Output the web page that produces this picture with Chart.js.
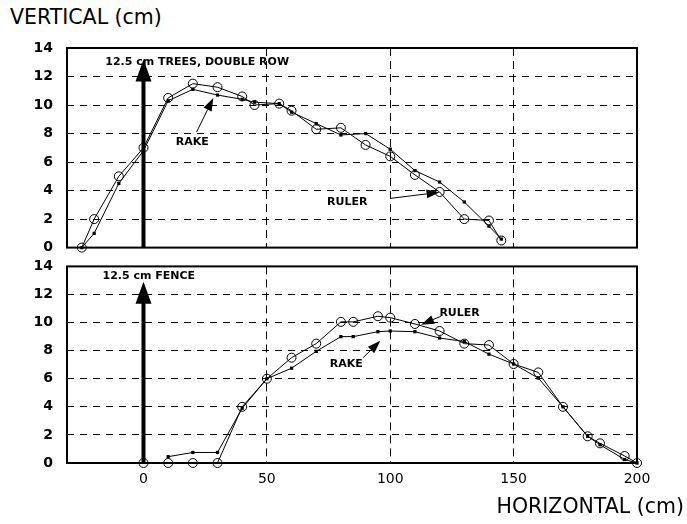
<!DOCTYPE html>
<html>
<head>
<meta charset="utf-8">
<script src="https://cdn.jsdelivr.net/npm/chart.js@4.4.0/dist/chart.umd.min.js"></script>
<style>
  body { margin: 0; background: #fff; width: 687px; height: 524px; position: relative; overflow: hidden; font-family: "DejaVu Sans", sans-serif; }
  canvas { position: absolute; left: 0; }
  #topChart { top: 0; }
  #botChart { top: 244px; }
  .axt { position: absolute; font-size: 20.5px; color: #000; white-space: nowrap; }
</style>
</head>
<body>
<div class="axt" style="left:10px; top:5px;">VERTICAL (cm)</div>
<canvas id="topChart" width="687" height="270"></canvas>
<canvas id="botChart" width="687" height="280"></canvas>
<div class="axt" style="right:3px; top:494px;">HORIZONTAL (cm)</div>

<script>
// --- data (cm) ---
const yTicks = [0, 2, 4, 6, 8, 10, 12, 14];
const xTicks = [0, 50, 100, 150, 200];

// upper panel: 12.5 cm trees, double row
const topX     = [-25, -20, -10, 0, 10, 20, 30, 40, 45, 55, 60, 70, 80, 90, 100, 110, 120, 130, 140, 145];
const topRuler = [0, 2.0, 5.0, 7.0, 10.5, 11.5, 11.25, 10.6, 10.0, 10.1, 9.6, 8.3, 8.4, 7.2, 6.4, 5.1, 3.9, 2.0, 1.9, 0.5];
const topRake  = [0, 1.0, 4.5, 6.8, 10.3, 11.1, 10.7, 10.4, 10.2, 10.1, 9.5, 8.7, 7.9, 8.0, 6.9, 5.4, 4.6, 3.2, 1.5, 0.6];

// lower panel: 12.5 cm fence
const botRulerX = [0, 10, 20, 30, 40, 50, 60, 70, 80, 85, 95, 100, 110, 120, 130, 140, 150, 160, 170, 180, 185, 195, 200];
const botRuler  = [0, 0, 0, 0, 4.0, 6.0, 7.5, 8.5, 10.05, 10.05, 10.45, 10.35, 9.9, 9.4, 8.5, 8.4, 7.05, 6.45, 4.0, 1.9, 1.4, 0.5, 0];
const botRakeX  = [10, 20, 30, 40, 50, 60, 70, 80, 85, 95, 100, 110, 120, 130, 140, 150, 160, 170, 180, 185, 195, 200];
const botRake   = [0.45, 0.75, 0.75, 3.9, 6.0, 6.75, 7.95, 9.0, 9.0, 9.35, 9.4, 9.35, 8.9, 8.65, 7.75, 7.05, 6.05, 4.0, 1.9, 1.3, 0.25, 0];

const pts = (xs, ys) => xs.map((x, i) => ({ x: x, y: ys[i] }));

// draws the plot frame, the thick marker arrow at x=0 and the labels with pointer arrows
const notes = {
  id: 'notes',
  beforeDatasetsDraw(chart, args, o) {
    const ctx = chart.ctx, xs = chart.scales.x, ys = chart.scales.y;
    const px = xs.getPixelForValue(0);
    const yb = ys.getPixelForValue(0), yt = ys.getPixelForValue(o.markerTop);
    ctx.save();
    ctx.fillStyle = '#000';
    ctx.fillRect(px - 2, yt + 18, 4, yb - yt - 18);
    ctx.beginPath();
    ctx.moveTo(px, yt);
    ctx.lineTo(px - 8, yt + 22);
    ctx.lineTo(px + 8, yt + 22);
    ctx.closePath();
    ctx.fill();
    ctx.restore();
  },
  afterDatasetsDraw(chart, args, o) {
    const ctx = chart.ctx, xs = chart.scales.x, ys = chart.scales.y, a = chart.chartArea;
    ctx.save();
    ctx.strokeStyle = '#000';
    ctx.fillStyle = '#000';
    ctx.lineWidth = 2;
    ctx.strokeRect(a.left, a.top, a.right - a.left, a.bottom - a.top);

    ctx.font = 'bold 11px "DejaVu Sans"';
    ctx.textBaseline = 'middle';
    ctx.textAlign = 'left';
    ctx.fillText(o.title.text, xs.getPixelForValue(o.title.x), ys.getPixelForValue(o.title.y));

    ctx.textAlign = 'center';
    o.labels.forEach(l => {
      ctx.fillText(l.text, xs.getPixelForValue(l.x), ys.getPixelForValue(l.y));
      const x1 = xs.getPixelForValue(l.from[0]), y1 = ys.getPixelForValue(l.from[1]);
      const x2 = xs.getPixelForValue(l.to[0]), y2 = ys.getPixelForValue(l.to[1]);
      const ang = Math.atan2(y2 - y1, x2 - x1), len = 13, hw = 4.5;
      const bx = x2 - len * Math.cos(ang), by = y2 - len * Math.sin(ang);
      ctx.lineWidth = 1;
      ctx.beginPath();
      ctx.moveTo(x1, y1);
      ctx.lineTo(bx, by);
      ctx.stroke();
      ctx.beginPath();
      ctx.moveTo(x2, y2);
      ctx.lineTo(bx + hw * Math.sin(ang), by - hw * Math.cos(ang));
      ctx.lineTo(bx - hw * Math.sin(ang), by + hw * Math.cos(ang));
      ctx.closePath();
      ctx.fill();
    });
    ctx.restore();
  }
};

function rulerSet(data) {
  return {
    label: 'RULER', data: data, showLine: true, clip: false,
    borderColor: '#000', borderWidth: 1,
    pointStyle: 'circle', pointRadius: 4.5,
    pointBackgroundColor: 'rgba(255,255,255,0)', pointBorderColor: '#000', pointBorderWidth: 1
  };
}
function rakeSet(data) {
  return {
    label: 'RAKE', data: data, showLine: true, clip: false,
    borderColor: '#000', borderWidth: 1,
    pointStyle: 'rect', pointRadius: 2.3,
    pointBackgroundColor: '#000', pointBorderColor: '#000', pointBorderWidth: 0
  };
}

function makeChart(id, datasets, showX, padTop, padBottom, notesOpts) {
  const ctx = document.getElementById(id).getContext('2d');
  return new Chart(ctx, {
    type: 'scatter',
    data: { datasets: datasets },
    options: {
      responsive: false,
      animation: false,
      events: [],
      layout: { padding: { top: padTop, right: 50, bottom: padBottom, left: 0 } },
      plugins: { legend: { display: false }, tooltip: { enabled: false }, notes: notesOpts },
      scales: {
        x: {
          type: 'linear', min: -31, max: 200,
          afterBuildTicks: s => { s.ticks = xTicks.map(v => ({ value: v })); },
          afterFit: s => { s.height = showX ? 61 : 0; },
          ticks: { display: showX, color: '#000', padding: 8, font: { family: 'DejaVu Sans', size: 14 } },
          grid: {
            drawTicks: false, lineWidth: 1,
            color: c => (c.tick && c.tick.value > 0 && c.tick.value < 200) ? '#000' : 'rgba(0,0,0,0)'
          },
          border: { display: false, dash: [8, 5] }
        },
        y: {
          min: 0, max: 14,
          afterBuildTicks: s => { s.ticks = yTicks.map(v => ({ value: v })); },
          afterFit: s => { s.width = 67; },
          ticks: { color: '#000', padding: 14, font: { family: 'DejaVu Sans', size: 14, weight: 'bold' } },
          grid: {
            drawTicks: false, lineWidth: 1,
            color: c => (c.tick && c.tick.value > 0 && c.tick.value < 14) ? '#000' : 'rgba(0,0,0,0)'
          },
          border: { display: false, dash: [7, 6] }
        }
      }
    },
    plugins: [notes]
  });
}

makeChart('topChart', [rulerSet(pts(topX, topRuler)), rakeSet(pts(topX, topRake))], false, 48, 9, {
  markerTop: 13.2,
  title: { text: '12.5 cm TREES, DOUBLE ROW', x: -15.5, y: 13.0 },
  labels: [
    { text: 'RAKE', x: 19.8, y: 7.4, from: [21.5, 8.1], to: [28.3, 10.5] },
    { text: 'RULER', x: 82.6, y: 3.17, from: [100, 3.45], to: [120, 3.88] }
  ]
});

makeChart('botChart', [rulerSet(pts(botRulerX, botRuler)), rakeSet(pts(botRakeX, botRake))], true, 9, 0, {
  markerTop: 12.9,
  title: { text: '12.5 cm FENCE', x: -16.6, y: 13.3 },
  labels: [
    { text: 'RULER', x: 128.1, y: 10.7, from: [120.5, 10.45], to: [112.5, 9.85] },
    { text: 'RAKE', x: 82.2, y: 7.05, from: [89, 7.5], to: [96, 8.7] }
  ]
});
</script>
</body>
</html>
